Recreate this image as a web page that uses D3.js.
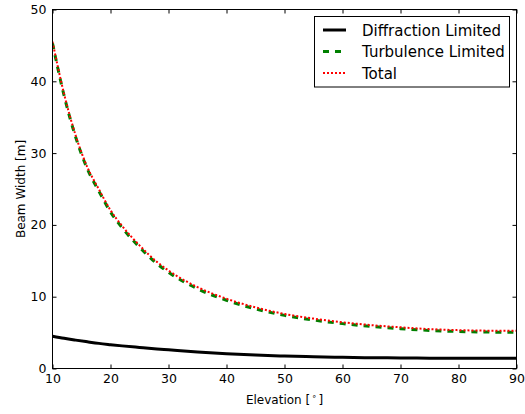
<!DOCTYPE html>
<html><head><meta charset="utf-8">
<script src="https://cdn.jsdelivr.net/npm/d3@7"></script>
<style>body{margin:0;background:#fff;} svg{display:block;font-family:"DejaVu Sans",sans-serif;}</style>
</head><body><svg id="c" width="525" height="414"></svg>
<script>
const elevation = [10,12,14,16,18,20,22,25,28,30,35,40,45,50,55,60,65,70,75,80,85,90];
const diffraction = [4.5,4.2,3.95,3.72,3.5,3.32,3.15,2.93,2.72,2.6,2.3,2.05,1.87,1.74,1.64,1.56,1.5,1.47,1.44,1.43,1.42,1.42];
const turbulence = [45.3,38.0,32.2,27.8,24.7,21.8,19.6,16.9,14.6,13.4,11.1,9.5,8.3,7.4,6.75,6.25,5.85,5.55,5.3,5.15,5.07,5.05];
const total = [45.52,38.23,32.44,28.05,24.95,22.05,19.85,17.15,14.85,13.65,11.34,9.72,8.51,7.6,6.95,6.44,6.04,5.74,5.49,5.34,5.27,5.25];
const xTicks = [10,20,30,40,50,60,70,80,90];
const yTicks = [0,10,20,30,40,50];
const seriesNames = ["Diffraction Limited","Turbulence Limited","Total"];

const svg = d3.select("#c");
const L=52.5, R=516.5, T=9.5, B=368.5;
const x = d3.scaleLinear().domain([10,90]).range([L,R]);
const y = d3.scaleLinear().domain([0,50]).range([B,T]);

const styles = [
  {color:"#000000", width:3, dash:null},
  {color:"#008000", width:3, dash:"6,6"},
  {color:"#ff0000", width:2, dash:"2,2"}
];
const data = [diffraction, turbulence, total];

svg.append("clipPath").attr("id","clip").append("rect")
  .attr("x",L).attr("y",T).attr("width",R-L).attr("height",B-T);

const line = d3.line().curve(d3.curveMonotoneX);
const g = svg.append("g").attr("clip-path","url(#clip)");
data.forEach((vals,i)=>{
  const pts = elevation.map((e,j)=>[x(e), y(vals[j])]);
  g.append("path").attr("d", line(pts)).attr("fill","none")
    .attr("stroke", styles[i].color).attr("stroke-width", styles[i].width)
    .attr("stroke-dasharray", styles[i].dash);
});

const tickLen = 4;
const axB = d3.axisBottom(x).tickValues(xTicks).tickSizeInner(-tickLen).tickSizeOuter(0).tickPadding(6);
const axT = d3.axisTop(x).tickValues(xTicks).tickSizeInner(-tickLen).tickSizeOuter(0).tickFormat("");
const axL = d3.axisLeft(y).tickValues(yTicks).tickSizeInner(-tickLen).tickSizeOuter(0).tickPadding(6);
const axR = d3.axisRight(y).tickValues(yTicks).tickSizeInner(-tickLen).tickSizeOuter(0).tickFormat("");
function style(sel){
  sel.select(".domain").remove();
  sel.selectAll(".tick line").attr("stroke","#000");
  sel.selectAll(".tick text").attr("fill","#000").style("font-size","12.5px").style("font-family","DejaVu Sans");
}
svg.append("g").attr("transform",`translate(0,${B})`).call(axB).call(style);
svg.append("g").attr("transform",`translate(0,${T})`).call(axT).call(style);
svg.append("g").attr("transform",`translate(${L},0)`).call(axL).call(style);
svg.append("g").attr("transform",`translate(${R},0)`).call(axR).call(style);
svg.append("rect").attr("x",L).attr("y",T).attr("width",R-L).attr("height",B-T)
  .attr("fill","none").attr("stroke","#000").attr("stroke-width",1);

const xl = svg.append("text").attr("x",(L+R)/2).attr("y",404).attr("text-anchor","middle")
  .style("font-size","12px").attr("fill","#000");
xl.append("tspan").text("Elevation [");
xl.append("tspan").attr("dy",-5).style("font-size","8px").text("\u2009\u2218\u2009");
xl.append("tspan").attr("dy",5).text("]");
svg.append("text").attr("transform",`translate(25,${(T+B)/2}) rotate(-90)`).attr("text-anchor","middle")
  .style("font-size","12px").attr("fill","#000").text("Beam Width [m]");

const lg = svg.append("g");
lg.append("rect").attr("x",314.5).attr("y",16.5).attr("width",195).attr("height",70.5)
  .attr("fill","#fff").attr("stroke","#000").attr("stroke-width",1);
seriesNames.forEach((n,i)=>{
  const yy = 30 + i*21.5;
  lg.append("line").attr("x1",323).attr("x2",346).attr("y1",yy).attr("y2",yy)
    .attr("stroke",styles[i].color).attr("stroke-width",styles[i].width)
    .attr("stroke-dasharray",styles[i].dash);
  lg.append("text").attr("x",362).attr("y",yy+5.5).style("font-size","15px").attr("fill","#000").text(n);
});
</script></body></html>
